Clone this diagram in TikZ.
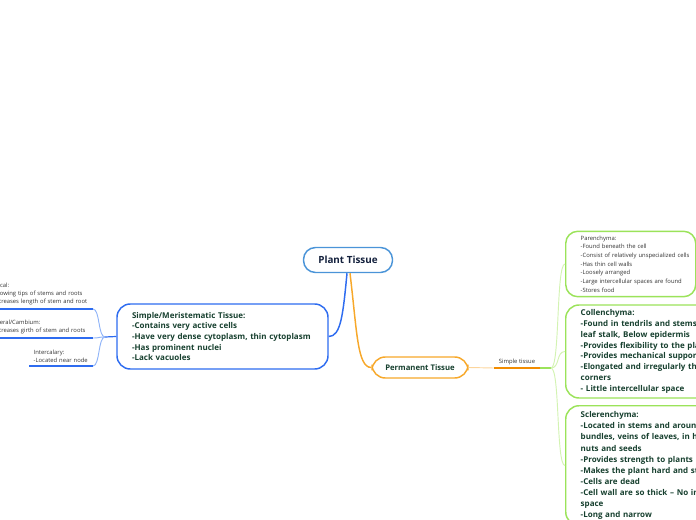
\documentclass[tikz,border=0pt]{standalone}
\usepackage{fontspec}
\setmainfont{Open Sans}
\usepackage{xcolor}
\usepackage{tikz}

\definecolor{rootblue}{HTML}{4A94D8}
\definecolor{meriblue}{HTML}{2E6CF0}
\definecolor{lightblue}{HTML}{90B4F8}
\definecolor{navytext}{HTML}{14213D}
\definecolor{darkgreen}{HTML}{17402F}
\definecolor{permorange}{HTML}{F7A82A}
\definecolor{paleorange}{HTML}{FCD59C}
\definecolor{deeporange}{HTML}{F28C00}
\definecolor{boxgreen}{HTML}{9BE35A}
\definecolor{palegreen}{HTML}{D3F3B2}
\definecolor{leafgray}{HTML}{333333}

\begin{document}
\begin{tikzpicture}[
  x=0.75pt, y=-0.75pt,
  topic/.style={draw=rootblue, line width=1.1pt, rounded corners=9pt, fill=white,
                minimum width=66.75pt, minimum height=18.75pt, text=navytext,
                font=\bfseries\fontsize{7.4}{9}\selectfont},
  mainbox/.style={line width=1.1pt, rounded corners=10pt, fill=white, align=left,
                  text=darkgreen, font=\bfseries\fontsize{6}{8}\selectfont},
  smallbox/.style={draw=boxgreen, line width=1.1pt, rounded corners=9pt, fill=white,
                   align=left, text=leafgray, font=\fontsize{4.4}{6.5}\selectfont},
  leaf/.style={anchor=south east, align=left, inner xsep=3pt, inner ysep=2.5pt,
               text=leafgray, font=\fontsize{4.4}{6.2}\selectfont},
  blueconn/.style={draw=meriblue, line width=1.1pt},
  orangeconn/.style={draw=permorange, line width=1.1pt},
  thinlink/.style={line width=0.7pt}
]
\useasboundingbox (0,0) rectangle (696,520);
\clip (0,0) rectangle (696,520);

% Centre
\node[topic] (root) at (348,260) {Plant Tissue};

% Left branch
\node[mainbox, draw=meriblue, text width=135.75pt, inner xsep=11.25pt,
      minimum height=48.75pt] (meri) at (222.5,336.5)
  {Simple/Meristematic Tissue:\\-Contains very active cells\\
   -Have very dense cytoplasm, thin cytoplasm\\-Has prominent nuclei\\-Lack vacuoles};

\node[leaf, text width=73pt] (apical) at (93,309)
  {Apical:\\-Growing tips of stems and roots\\\mbox{-Increases length of stem and root}};
\node[leaf, text width=73pt] (lateral) at (93,338)
  {Lateral/Cambium:\\\mbox{-Increases girth of stem and roots}};
\node[leaf, text width=41.25pt] (inter) at (93,366)
  {Intercalary:\\-Located near node};
\coordinate (bfork) at (105,337);

% Right branch
\node[mainbox, draw=permorange, minimum width=72pt, minimum height=15.75pt,
      font=\bfseries\fontsize{5.8}{7}\selectfont] (perm) at (420,367.5) {Permanent Tissue};
\node[anchor=south, minimum width=34.5pt, inner ysep=2pt, text=leafgray,
      font=\fontsize{4.4}{5}\selectfont] (simple) at (517,368) {Simple tissue};
\coordinate (gfork) at (551,368);

\node[smallbox, anchor=west, text width=75pt, inner xsep=11.25pt, minimum height=48pt]
  (paren) at (565,264)
  {Parenchyma:\\-Found beneath the cell\\\mbox{-Consist of relatively unspecialized cells}\\
   -Has thin cell walls\\-Loosely arranged\\\mbox{-Large intercellular spaces are found}\\-Stores food};
\node[mainbox, draw=boxgreen, anchor=west, text width=150pt, inner xsep=11.25pt,
      minimum height=69.75pt, font=\bfseries\fontsize{6}{8.1}\selectfont]
  (colle) at (565,351.5)
  {Collenchyma:\\-Found in tendrils and stems\\leaf stalk, Below epidermis\\
   -Provides flexibility to the plants\\-Provides mechanical support\\
   -Elongated and irregularly thickened\\corners\\- Little intercellular space};
\node[mainbox, draw=boxgreen, anchor=north west, text width=150pt, inner xsep=11.25pt,
      inner ysep=4.5pt, font=\bfseries\fontsize{6}{8.3}\selectfont]
  (scler) at (565,405)
  {Sclerenchyma:\\-Located in stems and around\\bundles, veins of leaves, in hard\\
   nuts and seeds\\-Provides strength to plants\\-Makes the plant hard and stiff\\
   -Cells are dead\\-Cell wall are so thick -- No intercellular\\space\\-Long and narrow\\ };

% Connectors
\draw[blueconn] ([xshift=-0.75pt]root.south) .. controls +(-4,42) and +(12,0) .. (meri.east);
\draw[orangeconn] ([xshift=1.5pt]root.south) .. controls +(7,58) and +(-14,0) .. (perm.west);

\draw[draw=meriblue, line width=0.9pt] (meri.west) -- (bfork);
\foreach \n in {apical, lateral, inter}{
  \draw[thinlink, draw=lightblue] (bfork) .. controls +(-7,0) and +(7,0) .. (\n.south east);
  \draw[draw=meriblue, line width=1.4pt] (\n.south west) -- (\n.south east);
}

\draw[thinlink, draw=paleorange] (perm.east) -- (simple.south west);
\draw[draw=deeporange, line width=1.4pt] (simple.south west) -- (simple.south east);
\draw[draw=boxgreen, line width=1.1pt] (simple.south east) -- (gfork);
\foreach \n in {paren, colle, scler}{
  \draw[thinlink, draw=palegreen] (gfork) .. controls +(9,0) and +(-9,0) .. (\n.west);
}
\end{tikzpicture}
\end{document}
